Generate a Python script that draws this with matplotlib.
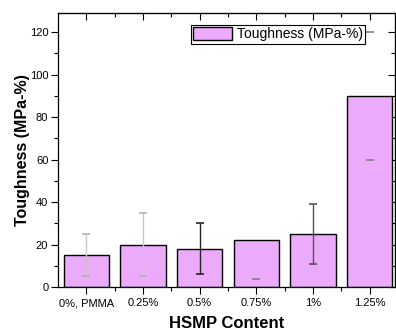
import matplotlib
matplotlib.use("Agg")
import matplotlib.pyplot as plt
from matplotlib.ticker import MultipleLocator, FixedLocator
import numpy as np

categories = ["0%, PMMA", "0.25%", "0.5%", "0.75%", "1%", "1.25%"]
toughness = [15, 20, 18, 22, 25, 90]
errors = [10, 15, 12, 18, 14, 30]
show_upper_cap = [True, True, True, False, True, True]
err_line_colors = ["#c8c8c8", "#c8c8c8", "#222222", "#ffffff00", "#555555", "#ffffff00"]
err_cap_colors = ["#b0b0b0", "#b0b0b0", "#222222", "#808080", "#555555", "#808080"]

plt.rcParams['font.family'] = ['Liberation Sans', 'DejaVu Sans']

fig = plt.figure(figsize=(3.96, 3.33), dpi=100)
ax = fig.add_axes([0.1465, 0.138, 0.851, 0.823])

x = np.arange(len(categories))
ax.bar(x, toughness, width=0.8, color="#ebaafa", edgecolor="black", linewidth=1.0,
       label="Toughness (MPa-%)", zorder=2)
for xi, v, e, lc, cc, su in zip(x, toughness, errors, err_line_colors, err_cap_colors, show_upper_cap):
    eb = ax.errorbar(xi, v, yerr=e, fmt='none', ecolor=lc, elinewidth=1.0,
                     capsize=3, capthick=1.2, zorder=3)
    caps = eb[1]
    for cap in caps:
        cap.set_markeredgecolor(cc)
        cap.set_zorder(4)
    if not su and len(caps) > 1:
        caps[1].set_visible(False)

ax.set_xlim(-0.5, 5.45)
ax.set_ylim(0, 129)
ax.set_xticks(x)
ax.set_xticklabels(categories, fontsize=8)
ax.xaxis.set_minor_locator(FixedLocator(x[:-1] + 0.5))
ax.yaxis.set_major_locator(MultipleLocator(20))
ax.yaxis.set_minor_locator(MultipleLocator(10))
ax.tick_params(axis='y', which='major', labelsize=8, direction='out', length=5, width=0.8, pad=2)
ax.tick_params(axis='y', which='minor', direction='out', length=3, width=0.8)
ax.tick_params(axis='x', which='major', direction='out', length=5, width=0.8, pad=3)
ax.tick_params(axis='x', which='minor', direction='out', length=3, width=0.8)

# top and right ticks (inward)
axt = ax.secondary_xaxis('top')
axt.set_xticks(x)
axt.xaxis.set_minor_locator(FixedLocator(x[:-1] + 0.5))
axt.tick_params(which='major', direction='in', length=5, width=0.8, labeltop=False)
axt.tick_params(which='minor', direction='in', length=3, width=0.8)
axr = ax.secondary_yaxis('right')
axr.yaxis.set_major_locator(MultipleLocator(20))
axr.yaxis.set_minor_locator(MultipleLocator(10))
axr.tick_params(which='major', direction='in', length=5, width=0.8, labelright=False)
axr.tick_params(which='minor', direction='in', length=3, width=0.8)

for s in ax.spines.values():
    s.set_linewidth(0.9)

ax.set_xlabel("HSMP Content", fontsize=12, fontweight='bold', labelpad=6)
ax.set_ylabel("Toughness (MPa-%)", fontsize=11.5, fontweight='bold', labelpad=0)

leg = ax.legend(loc='upper right', bbox_to_anchor=(0.92, 0.965), fontsize=10,
                frameon=True, fancybox=False, edgecolor='black', framealpha=1,
                handlelength=2.8, handleheight=1.0, borderpad=0.15, handletextpad=0.4,
                borderaxespad=0.2)
leg.get_frame().set_linewidth(0.8)

fig.savefig("out.png", dpi=100)
